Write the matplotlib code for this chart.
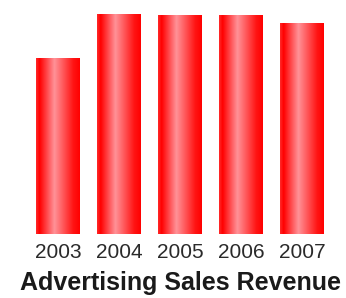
import numpy as np
import matplotlib
matplotlib.use("Agg")
import matplotlib.pyplot as plt
from matplotlib.colors import LinearSegmentedColormap

plt.rcParams['font.family'] = ['Liberation Sans', 'DejaVu Sans']

# Data (relative revenue)
years = ['2003', '2004', '2005', '2006', '2007']
revenue = [176, 220, 219, 219, 211]
title = 'Advertising Sales Revenue'

# horizontal "tube" shading of the bars
shade = LinearSegmentedColormap.from_list('tube', [
    (0.0, '#ff2a2a'), (0.08, '#ff0000'), (0.42, '#ff9298'),
    (0.85, '#ff1414'), (1.0, '#ff0000')])

fig = plt.figure(figsize=(3.46, 2.98), dpi=100)
ax = fig.add_axes([0, 64 / 298, 1, 234 / 298])

x = np.arange(len(years))
bars = ax.bar(x, revenue, width=0.72, color='none', edgecolor='none')
grad = np.linspace(0, 1, 256).reshape(1, -1)
for b in bars:
    x0, w, h = b.get_x(), b.get_width(), b.get_height()
    ax.imshow(grad, cmap=shade, extent=[x0, x0 + w, 0, h], aspect='auto',
              interpolation='bilinear', zorder=2)

ax.set_xlim(-58 / 61, 288 / 61)
ax.set_ylim(0, 234)
ax.set_xticks(x)
ax.set_xticklabels(years, fontsize=15, color='#2a2a2a')
ax.tick_params(axis='x', length=0, pad=6.3)
ax.set_yticks([])
for s in ax.spines.values():
    s.set_visible(False)

fig.text(181 / 346, 8 / 298, title, ha='center', va='baseline',
         fontsize=18, fontweight='bold', color='#1a1a1a')

fig.savefig('out.png', dpi=100)
